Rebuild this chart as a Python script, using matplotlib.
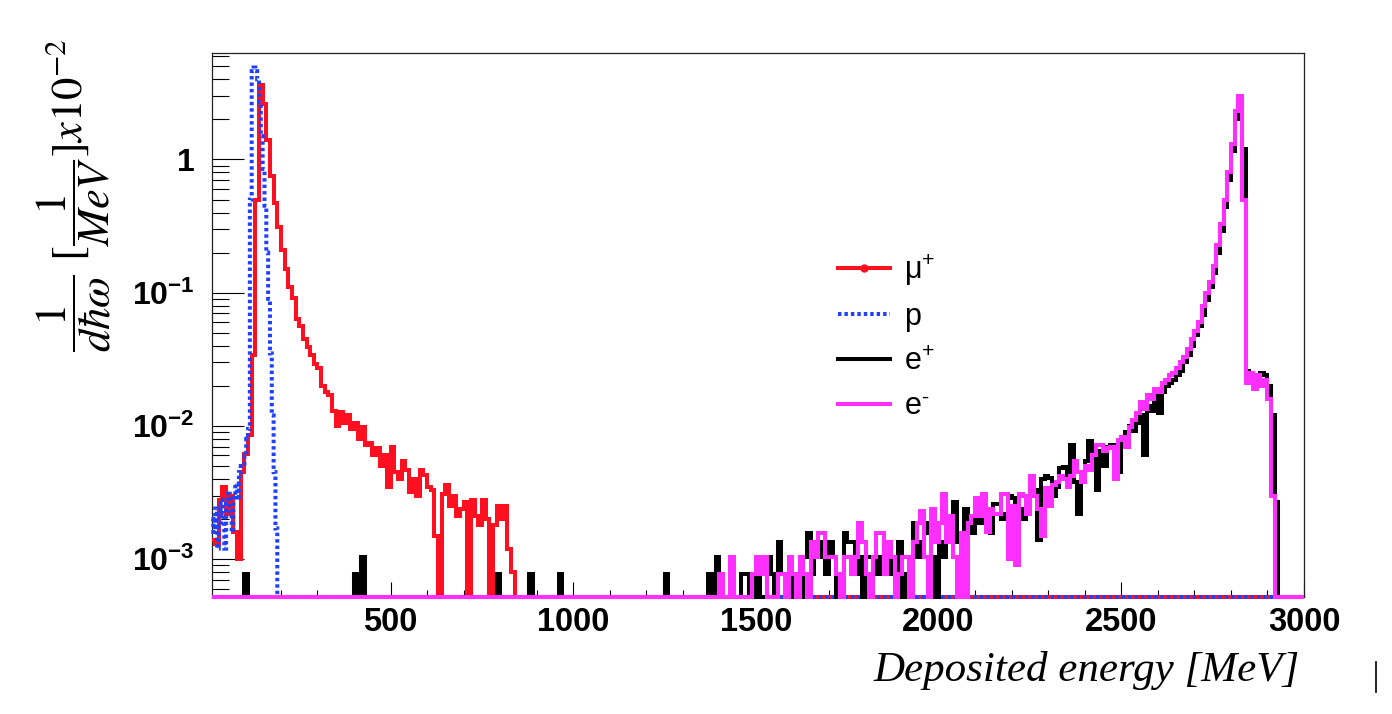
import numpy as np
import matplotlib
matplotlib.use("Agg")
import matplotlib.pyplot as plt
from matplotlib.lines import Line2D
from matplotlib.ticker import MultipleLocator, LogLocator, NullFormatter
from matplotlib.transforms import ScaledTranslation

# ---------------- data ----------------
x_start, x_end = 10, 3000
bin_width = 10          # MeV, mu+, e+, e-
proton_bin_width = 5    # MeV

# mu+ : bins of 10 MeV starting at 10 MeV
mu_plus_start = 10
mu_plus = [
    0.0014, 0.0013, 0.0028, 0.0035, 0.0022, 0.0030, 0.0016, 0.0010, 0.0045, 0.0062,
    0.0085, 0.034, 0.5, 3.6, 2.6, 1.4, 0.75, 0.47, 0.31, 0.21,
    0.15, 0.11, 0.092, 0.063, 0.056, 0.045, 0.039, 0.034, 0.029, 0.027,
    0.020, 0.018, 0.017, 0.013, 0.010, 0.0128, 0.0105, 0.012, 0.0095, 0.0105,
    0.0080, 0.0098, 0.0072, 0.0075, 0.0060, 0.0068, 0.0050, 0.0060, 0.0035, 0.0070,
    0.0045, 0.0040, 0.0055, 0.0047, 0.0032, 0.0040, 0.0030, 0.0047, 0.0043, 0.0035,
    0.0033, 0.0015, 0, 0.0031, 0.0036, 0.0025, 0.0030, 0.0021, 0.0024, 0.0027,
    0, 0.0028, 0.0021, 0.0018, 0.0028, 0.0020, 0, 0.0018, 0.0025, 0.0020,
    0.0025, 0.0012, 0.0008,
]

# p : bins of 5 MeV starting at 10 MeV
proton_start = 10
proton = [
    0.0020, 0.0016, 0.0024, 0.0012, 0.0018, 0.0028, 0.0022, 0.0012, 0.0026, 0.0031,
    0.0023, 0.0016, 0.0030, 0.0037, 0.0028, 0.0045, 0.0050, 0.0052, 0.0060, 0.0080,
    0.0095, 0.5, 4.6, 4.9, 4.6, 4.0, 2.7, 1.5, 0.85, 0.45,
    0.2, 0.09, 0.035, 0.012, 0.0045, 0.0017,
]

# e+ : isolated low-energy entries, then bins of 10 MeV from 1240 MeV
e_plus_spike_energy = [100, 400, 420, 790, 880, 960]
e_plus_spike_value = [0.00078, 0.00078, 0.00104, 0.00078, 0.00078, 0.00078]
e_plus_start = 1240
e_plus = [
    0, 0.00078, 0, 0, 0, 0, 0, 0, 0, 0,
    0, 0, 0, 0.00078, 0, 0.00104, 0, 0, 0, 0,
    0, 0, 0.00078, 0.00078, 0, 0, 0.00078, 0, 0, 0.00104,
    0.00078, 0, 0.00134, 0.00078, 0, 0, 0.00078, 0, 0, 0.00104,
    0.00158, 0.00078, 0.00104, 0.00104, 0.00134, 0.00078, 0.00134, 0.00104, 0, 0.00078,
    0.00158, 0.00134, 0.00134, 0.00078, 0.00104, 0, 0.00104, 0.00104, 0.00078, 0.00104,
    0.00078, 0.00134, 0.00078, 0.00104, 0.00078, 0.00134, 0, 0.00078, 0.00104, 0.00186,
    0.00104, 0.00134, 0.00158, 0.00186, 0.00104, 0, 0.00134, 0.00104, 0.0021, 0.00158,
    0.0027, 0.00134, 0.00104, 0.0024, 0.00186, 0.00158, 0.0021, 0.00186, 0.0024, 0.0021,
    0.00158, 0.0026, 0.0026, 0.0020, 0.0022, 0.0030, 0.0029, 0.0012, 0.0024, 0.0020,
    0.0025, 0.0030, 0.0033, 0.0014, 0.0040, 0.0042, 0.0041, 0.0030, 0.0035, 0.0048,
    0.0049, 0.0040, 0.0072, 0.0038, 0.0022, 0.0045, 0.0055, 0.0077, 0.0062, 0.0033,
    0.0065, 0.0050, 0.0070, 0.0072, 0.0068, 0.0045, 0.0083, 0.0090, 0.0100, 0.0092,
    0.0105, 0.012, 0.006, 0.014, 0.013, 0.017, 0.0125, 0.018, 0.020, 0.021,
    0.022, 0.024, 0.026, 0.030, 0.034, 0.040, 0.048, 0.056, 0.068, 0.088,
    0.11, 0.14, 0.2, 0.29, 0.44, 0.7, 1.15, 2.0, 3.0, 1.2,
    0.026, 0.023, 0.024, 0.021, 0.025, 0.024, 0.02, 0.012, 0.0027,
]

# e- : bins of 10 MeV from 1240 MeV
e_minus_start = 1240
e_minus = [
    0, 0, 0, 0, 0, 0, 0, 0, 0, 0,
    0, 0, 0, 0, 0, 0, 0.00078, 0, 0, 0.00104,
    0, 0, 0, 0, 0, 0.00078, 0.00104, 0.00078, 0.00104, 0,
    0, 0, 0.00078, 0.00078, 0, 0.00104, 0.00078, 0, 0.00104, 0.00078,
    0, 0.00134, 0.00104, 0.00158, 0.00158, 0.00104, 0.00104, 0.00104, 0.00078, 0,
    0.00104, 0.00104, 0.00078, 0.00104, 0.00186, 0.00134, 0.00078, 0, 0.00104, 0.00158,
    0.00158, 0.00078, 0.00134, 0.00104, 0, 0.00078, 0.00104, 0.00104, 0, 0.00134,
    0.00186, 0.0023, 0.00104, 0, 0.0024, 0.00134, 0.00186, 0.0031, 0.00134, 0.0021,
    0.00104, 0, 0.00158, 0, 0.00186, 0.0021, 0.0029, 0.0021, 0.0031, 0.0016,
    0.0024, 0.0022, 0.0022, 0.0031, 0.0031, 0.0010, 0.0025, 0.0009, 0.0031, 0.0030,
    0.0022, 0.0042, 0.0030, 0.0024, 0.0015, 0.0034, 0.0025, 0.0036, 0.0038, 0.0042,
    0.0040, 0.0035, 0.0042, 0.0055, 0.0045, 0.0038, 0.0050, 0.0047, 0.0060, 0.0072,
    0.0072, 0.0065, 0.0068, 0.0070, 0.0040, 0.0078, 0.0082, 0.0070, 0.0098, 0.011,
    0.0125, 0.015, 0.0135, 0.017, 0.016, 0.019, 0.018, 0.021, 0.022, 0.024,
    0.025, 0.027, 0.030, 0.033, 0.038, 0.045, 0.052, 0.06, 0.08, 0.1,
    0.12, 0.16, 0.23, 0.33, 0.5, 0.8, 1.3, 2.3, 3.0, 0.5,
    0.021, 0.025, 0.019, 0.024, 0.02, 0.022, 0.016, 0.003,
]

y_min, y_max = 5.2e-4, 6.3
x_ticks = [500, 1000, 1500, 2000, 2500, 3000]
x_tick_labels = ["500", "1000", "1500", "2000", "2500", "3000"]
y_ticks = [1e-3, 1e-2, 1e-1, 1]
y_tick_labels = [r"$\mathbf{10^{-3}}$", r"$\mathbf{10^{-2}}$", r"$\mathbf{10^{-1}}$", "1"]
legend_labels = [r"μ$^{+}$", "p", r"e$^{+}$", r"e$^{\text{-}}$"]
x_label = "Deposited energy [MeV]"
y_label = r"$\dfrac{\mathit{1}}{d\hbar\omega}\ [\dfrac{\mathit{1}}{MeV}]x\mathit{10}^{-2}$"

# ---------------- build histograms ----------------
def fill(start, vals, width):
    n = int(round((x_end - x_start) / width))
    arr = np.zeros(n)
    i0 = int(round((start - x_start) / width))
    arr[i0:i0 + len(vals)] = vals
    return arr

edges10 = x_start + bin_width * np.arange(int((x_end - x_start) / bin_width) + 1)
edges5 = x_start + proton_bin_width * np.arange(int((x_end - x_start) / proton_bin_width) + 1)

h_mu = fill(mu_plus_start, mu_plus, bin_width)
h_p = fill(proton_start, proton, proton_bin_width)
h_ep = fill(e_plus_start, e_plus, bin_width)
for en, v in zip(e_plus_spike_energy, e_plus_spike_value):
    h_ep[int(round((en - x_start) / bin_width))] = v
h_em = fill(e_minus_start, e_minus, bin_width)

def floor(h):
    return np.where(h > 0, h, y_min)

# ---------------- styling ----------------
plt.rcParams.update({
    "mathtext.fontset": "custom",
    "mathtext.rm": "Liberation Sans",
    "mathtext.it": "Liberation Sans:italic",
    "mathtext.bf": "Liberation Sans:bold",
    "mathtext.sf": "Liberation Sans",
    "font.family": ["Liberation Sans", "DejaVu Sans"],
})

W, H = 1392, 714
fig = plt.figure(figsize=(W / 100, H / 100), dpi=100)
ax_l, ax_r, ax_t, ax_b = 211.5, 1304, 53, 597
ax = fig.add_axes([ax_l / W, 1 - ax_b / H, (ax_r - ax_l) / W, (ax_b - ax_t) / H])

c_red, c_blue, c_black, c_mag = "#ff1020", "#2040ff", "#000000", "#ff30ff"
lw = 2.9
dot = (0, (0.85, 0.75))
ax.stairs(floor(h_mu), edges10, baseline=None, color=c_red, lw=lw, zorder=3, clip_on=False)
ax.stairs(floor(h_p), edges5, baseline=None, color=c_blue, lw=lw, linestyle=dot,
          zorder=3.1, clip_on=False)
ax.stairs(floor(h_ep), edges10, baseline=None, color=c_black, lw=lw, zorder=3.2, clip_on=False)
ax.stairs(floor(h_em), edges10, baseline=None, color=c_mag, lw=lw, zorder=3.3, clip_on=False)

ax.set_yscale("log")
ax.set_xlim(x_start, x_end)
ax.set_ylim(y_min, y_max)

ax.set_xticks(x_ticks)
ax.set_xticklabels(x_tick_labels, fontsize=23.5, fontweight="bold")
shift = ScaledTranslation(-5 / 100, 0, fig.dpi_scale_trans)
for lbl in ax.get_xticklabels():
    lbl.set_transform(lbl.get_transform() + shift)
ax.xaxis.set_minor_locator(MultipleLocator(100))
ax.set_yticks(y_ticks)
ax.set_yticklabels(y_tick_labels, fontsize=23, fontweight="bold")
ax.yaxis.set_minor_locator(LogLocator(base=10, subs=np.arange(2, 10), numticks=20))
ax.yaxis.set_minor_formatter(NullFormatter())

ax.tick_params(axis="x", which="major", direction="in", length=11, width=0.8, pad=7)
ax.tick_params(axis="x", which="minor", direction="in", length=5.3, width=0.8)
ax.tick_params(axis="y", which="major", direction="in", length=23, width=0.8, pad=12)
ax.tick_params(axis="y", which="minor", direction="in", length=12, width=0.8)
ax.tick_params(top=False, right=False, which="both")
for s in ax.spines.values():
    s.set_linewidth(0.9)
    s.set_color("#222222")

# legend
handles = [
    Line2D([], [], color=c_red, lw=lw, marker="o", markersize=5),
    Line2D([], [], color=c_blue, lw=lw, linestyle=dot),
    Line2D([], [], color=c_black, lw=lw),
    Line2D([], [], color=c_mag, lw=lw),
]
fig.legend(handles, legend_labels, loc="upper left",
           bbox_to_anchor=(838 / W, 1 - 252 / H), bbox_transform=fig.transFigure,
           frameon=False, fontsize=22, handlelength=1.7, handletextpad=0.45,
           labelspacing=0.48, borderpad=0, borderaxespad=0)

# axis titles
fig.text(1300 / W, 1 - 681 / H, x_label, ha="right", va="baseline",
         fontsize=31, family="Liberation Serif", style="italic")
fig.text(74 / W, 1 - 38 / H, y_label, rotation=90, ha="center", va="top",
         fontsize=32, math_fontfamily="stix")

# small vertical mark at bottom right of the canvas
fig.add_artist(Line2D([1375.5 / W, 1375.5 / W], [1 - 692 / H, 1 - 662 / H],
                      color="black", lw=1.2, transform=fig.transFigure))

fig.savefig("out.png", dpi=100)
